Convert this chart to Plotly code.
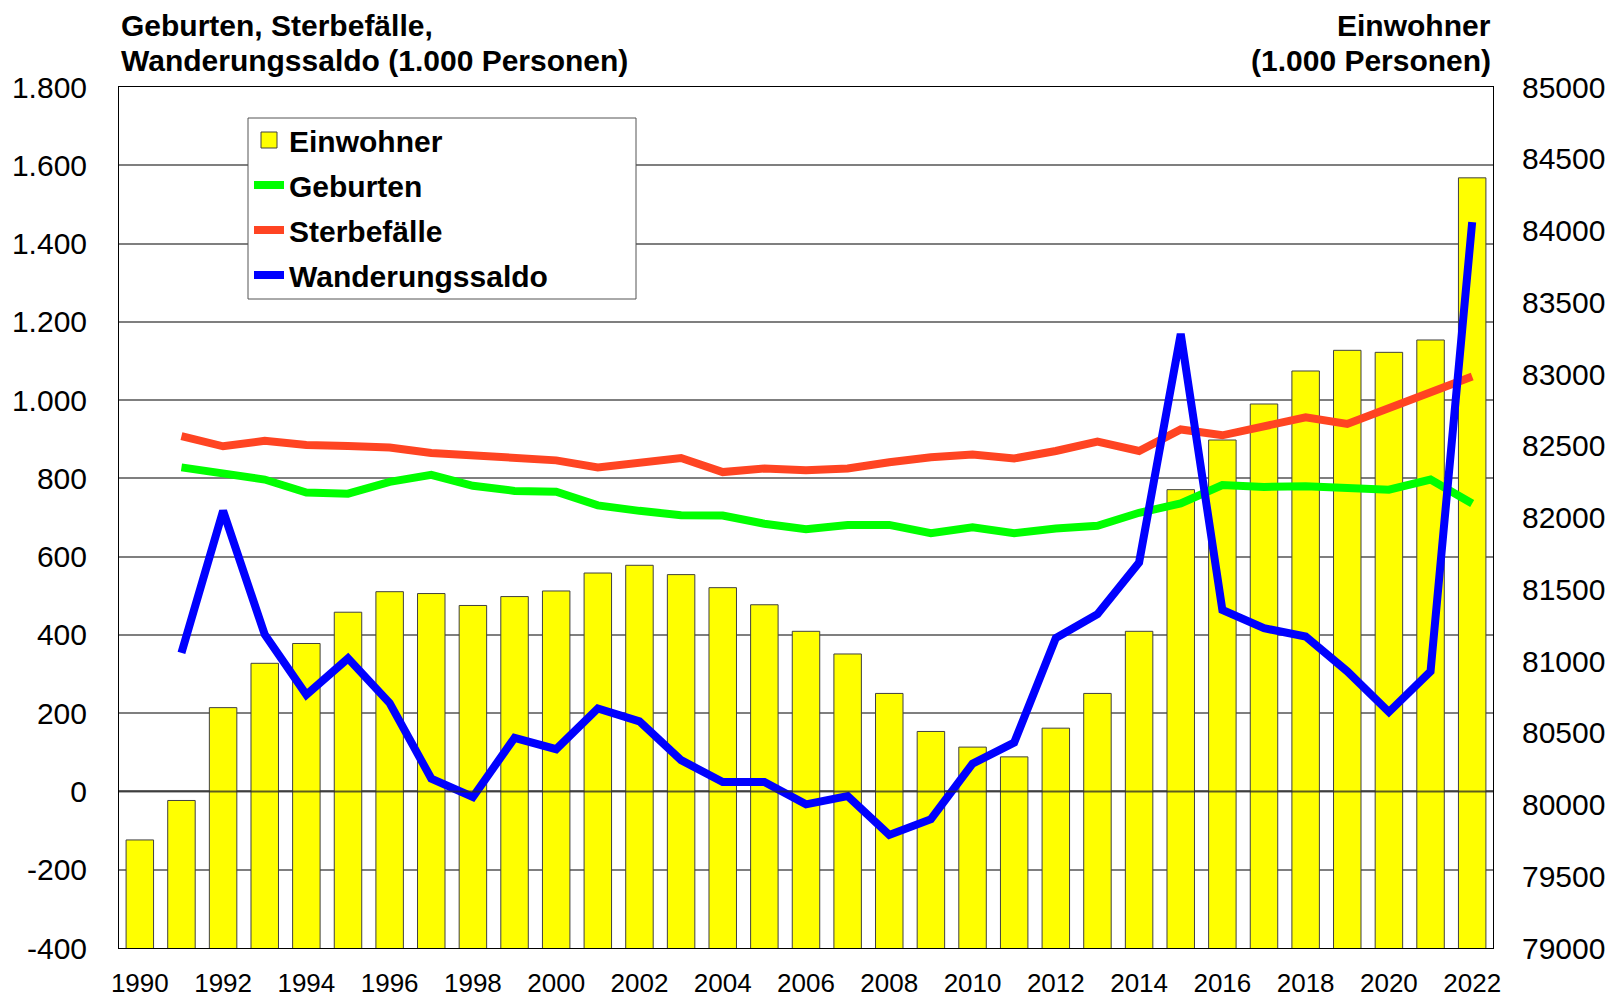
import plotly.graph_objects as go

years = list(range(1990, 2023))
line_years = list(range(1991, 2023))

# Einwohner (1.000 Personen), right axis
einwohner = [79753, 80028, 80675, 80984, 81122, 81340, 81483, 81470, 81387, 81449,
             81488, 81613, 81667, 81602, 81511, 81392, 81207, 81049, 80774, 80509,
             80400, 80332, 80532, 80774, 81207, 82194, 82540, 82791, 83021, 83165,
             83151, 83237, 84367]

# 1991..2022, left axis
geburten = [828, 811, 797, 764, 761, 791, 809, 781, 768, 766,
            731, 717, 706, 705, 684, 670, 681, 681, 660, 675,
            660, 672, 679, 712, 736, 783, 778, 780, 774, 771,
            797, 736]
sterbefaelle = [908, 882, 896, 885, 883, 879, 865, 858, 853, 846,
                828, 839, 852, 816, 825, 821, 825, 841, 854, 861,
                851, 870, 894, 870, 925, 910, 934, 956, 939, 981,
                1019, 1060]
wanderungssaldo = [354, 717, 401, 247, 340, 226, 33, -14, 137, 108,
                   212, 179, 80, 24, 24, -33, -12, -111, -71, 71,
                   125, 392, 453, 585, 1169, 464, 417, 396, 307, 203,
                   307, 1455]

left_tickvals = list(range(-400, 1801, 200))
left_ticktext = ["-400", "-200", "0", "200", "400", "600", "800",
                 "1.000", "1.200", "1.400", "1.600", "1.800"]
right_tickvals = list(range(79000, 85001, 500))
right_ticktext = [str(v) for v in right_tickvals]
x_tickvals = list(range(1990, 2023, 2))
x_ticktext = [str(v) for v in x_tickvals]

FONT = "Liberation Sans, Arial, sans-serif"

fig = go.Figure()
# legend-only swatch for the bars (larger yellow box like the original)
fig.add_trace(go.Scatter(x=[None], y=[None], name="Einwohner", yaxis="y",
                         mode="markers", legendgroup="a",
                         marker=dict(symbol="square", size=20, color="#FFFF00",
                                     line=dict(color="#404040", width=1))))
fig.add_trace(go.Bar(x=years, y=einwohner, name="Einwohner", yaxis="y",
                     showlegend=False, legendgroup="a",
                     marker=dict(color="#FFFF00", line=dict(color="#404040", width=1))))
fig.add_trace(go.Scatter(x=line_years, y=geburten, name="Geburten", yaxis="y2",
                         mode="lines", legendgroup="b",
                         line=dict(color="#00FF00", width=8)))
fig.add_trace(go.Scatter(x=line_years, y=sterbefaelle, name="Sterbefälle", yaxis="y2",
                         mode="lines", legendgroup="c",
                         line=dict(color="#FF4422", width=8)))
fig.add_trace(go.Scatter(x=line_years, y=wanderungssaldo, name="Wanderungssaldo", yaxis="y2",
                         mode="lines", legendgroup="d",
                         line=dict(color="#0000FF", width=8)))

# The page body has an 8px default margin: the figure starts at (8, 8) and
# is sized to reach the window's right and bottom edges.
OFF = 8
W, H = 1619 - OFF, 998 - OFF
L, T = 119 - OFF, 87 - OFF
R = W - (1493 - OFF)
B = H - (948 - OFF)
pw, ph = W - L - R, H - T - B

def px(page_x):
    return (page_x - OFF - L) / pw

def py(page_y):
    return 1 - (page_y - OFF - T) / ph

title_font = dict(family=FONT, size=30, weight="bold", color="black")

fig.update_layout(
    width=W, height=H,
    margin=dict(l=L, r=R, t=T, b=B, pad=0, autoexpand=False),
    paper_bgcolor="white", plot_bgcolor="white",
    font=dict(family=FONT, color="black"),
    bargap=0.34,
    showlegend=True,
    legend=dict(x=px(249), y=py(114), xanchor="left", yanchor="top",
                bgcolor="rgba(0,0,0,0)", borderwidth=0,
                font=dict(family=FONT, size=30, weight="bold", color="black"),
                traceorder="grouped", tracegroupgap=3),
    xaxis=dict(range=[1989.5, 2022.5], tickvals=x_tickvals, ticktext=x_ticktext,
               showgrid=False, zeroline=False, showline=True, mirror=True,
               linecolor="black", linewidth=1, ticks="", ticklabelstandoff=12,
               automargin=False, tickfont=dict(family=FONT, size=26)),
    yaxis=dict(range=[79000, 85000], side="right", tickvals=right_tickvals,
               ticktext=right_ticktext, showgrid=False, zeroline=False,
               showline=True, mirror=True, linecolor="black", linewidth=1,
               ticks="", ticklabelstandoff=22, automargin=False,
               tickfont=dict(family=FONT, size=30)),
    yaxis2=dict(range=[-400, 1800], side="left", overlaying="y", anchor="x",
                tickvals=left_tickvals, ticktext=left_ticktext,
                showgrid=True, gridcolor="#7f7f7f", gridwidth=1.5, zeroline=False,
                showline=False, ticks="", ticklabelstandoff=31, automargin=False,
                tickfont=dict(family=FONT, size=30)),
    annotations=[
        dict(xref="paper", yref="paper", x=0, y=py(25.5), xanchor="left", yanchor="middle",
             text="Geburten, Sterbefälle,", showarrow=False, font=title_font),
        dict(xref="paper", yref="paper", x=0, y=py(60.5), xanchor="left", yanchor="middle",
             text="Wanderungssaldo (1.000 Personen)", showarrow=False, font=title_font),
        dict(xref="paper", yref="paper", x=1, y=py(25.5), xanchor="right", yanchor="middle",
             text="Einwohner", showarrow=False, font=title_font),
        dict(xref="paper", yref="paper", x=1, y=py(60.5), xanchor="right", yanchor="middle",
             text="(1.000 Personen)", showarrow=False, font=title_font),
    ],
    shapes=[
        dict(type="line", xref="paper", yref="y2", x0=0, x1=1, y0=0, y1=0,
             line=dict(color="rgba(40,40,40,0.75)", width=2), layer="above"),
        dict(type="rect", xref="paper", yref="paper", x0=px(248), x1=px(636),
             y0=py(299), y1=py(118), fillcolor="white",
             line=dict(color="#555555", width=1), layer="above"),
    ],
)

fig.write_html("out.html")
